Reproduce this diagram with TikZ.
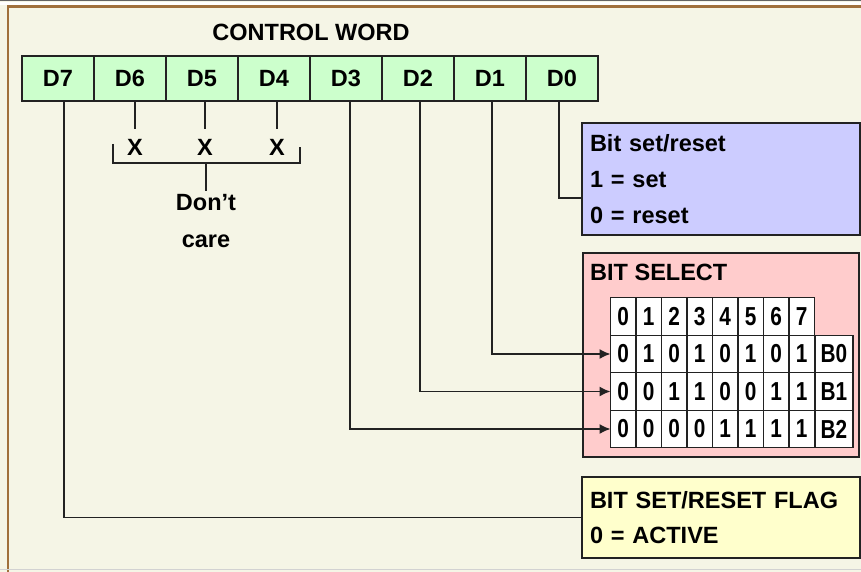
\documentclass[tikz,border=0pt]{standalone}
\usepackage{fontspec}
\setmainfont{Liberation Sans}
\newfontfamily\narrowfont[FakeStretch=0.8]{Liberation Sans}
\usetikzlibrary{positioning,arrows.meta}
\definecolor{paper}{HTML}{F5F5E6}
\definecolor{frame}{HTML}{A0703C}
\definecolor{ink}{HTML}{222222}
\definecolor{wordfill}{HTML}{CCFFCC}
\definecolor{setfill}{HTML}{CCCCFF}
\definecolor{selfill}{HTML}{FFCCCC}
\definecolor{flagfill}{HTML}{FFFFCC}

\begin{document}
\begin{tikzpicture}[x=1pt, y=-1pt, node distance=72pt,
    font=\bfseries\fontsize{23.5}{26}\selectfont]
    \tikzset{bitcell/.style={draw=ink, line width=1.6pt, fill=wordfill, minimum width=72pt,
                minimum height=45pt, inner sep=0pt, outer sep=0pt},
             infobox/.style={draw=ink, line width=1.6pt, anchor=north west, align=left,
                inner xsep=8pt, outer sep=0pt},
             gridcell/.style={draw=ink, line width=1.2pt, fill=white, minimum width=25.5pt,
                minimum height=37.5pt, inner sep=0pt, outer sep=0pt,
                font=\narrowfont\bfseries\fontsize{26}{26}\selectfont},
             wire/.style={draw=ink, line width=1.5pt},
             pointer/.style={wire, -{Latex[length=11pt, width=10pt]}}}

    % page and frame
    \useasboundingbox (0,0) rectangle (861,572);
    \fill[paper] (0,0) rectangle (861,572);
    \fill[white] (0,2) rectangle (861,5);
    \draw[ink!70, line width=1pt] (0,1) -- (861,1);
    \draw[frame, line width=2.5pt] (8,572) -- (8,6.5) -- (861,6.5);
    \draw[gray!35, line width=1pt] (0,569.5) -- (861,569.5);

    % control word
    \node (title) at (311,32) {CONTROL WORD};
    \node[bitcell] (d7) at (58,78.5) {D7};
    \node[bitcell, right of = d7] (d6) {D6};
    \node[bitcell, right of = d6] (d5) {D5};
    \node[bitcell, right of = d5] (d4) {D4};
    \node[bitcell, right of = d4] (d3) {D3};
    \node[bitcell, right of = d3] (d2) {D2};
    \node[bitcell, right of = d2] (d1) {D1};
    \node[bitcell, right of = d1] (d0) {D0};

    % don't care bits
    \node[inner ysep=10pt] (x6) at (135,147) {X};
    \node[inner ysep=10pt] (x5) at (205,147) {X};
    \node[inner ysep=10pt] (x4) at (277,147) {X};
    \draw[wire] ([xshift=5pt]d6.south) -- (x6.north);
    \draw[wire] ([xshift=3pt]d5.south) -- (x5.north);
    \draw[wire] ([xshift=3pt]d4.south) -- (x4.north);
    \coordinate (brk) at (206,163);
    \draw[wire] (113,144) |- (300,163) -- (300,147);
    \node[align=center, font=\bfseries\fontsize{23.5}{37}\selectfont] (dc) at (206,221.5) {Don't\\care};
    \draw[wire] (brk) -- (dc.north);

    % boxes
    \node[infobox, fill=setfill, minimum width=278pt, minimum height=112pt, text width=262pt,
          font=\bfseries\fontsize{23.5}{36}\selectfont] (setreset) at (582,123)
          {Bit set/reset\\1 = set\\0 = reset};
    \node[infobox, fill=selfill, minimum width=276pt, minimum height=204pt] (bitsel) at (583,253) {};
    \node[anchor=west, inner sep=0pt] (seltitle) at (590,272) {BIT SELECT};
    \node[infobox, fill=flagfill, minimum width=278pt, minimum height=81pt, text width=262pt,
          font=\bfseries\fontsize{23.5}{35}\selectfont] (flag) at (582,477)
          {BIT SET/RESET FLAG\\0 = ACTIVE};

    % bit select table
    \foreach \r/\y/\bits in {h/316.5/{0,1,2,3,4,5,6,7}, b0/354/{0,1,0,1,0,1,0,1},
                             b1/391.5/{0,0,1,1,0,0,1,1}, b2/429/{0,0,0,0,1,1,1,1}}
        \foreach \b [count=\c from 0] in \bits
            \node[gridcell] (\r-\c) at (623.25+25.5*\c, \y) {\b};
    \node[gridcell, minimum width=38pt] (b0-lab) at (834,354) {B0};
    \node[gridcell, minimum width=38pt] (b1-lab) at (834,391.5) {B1};
    \node[gridcell, minimum width=38pt] (b2-lab) at (834,429) {B2};

    % connections
    \draw[wire] ([xshift=6pt]d7.south) |- (flag.west);
    \draw[wire] ([xshift=-3pt]d0.south) |- ([yshift=-19pt]setreset.west);
    \draw[pointer] ([xshift=2pt]d1.south) |- (b0-0.west);
    \draw[pointer] ([xshift=2pt]d2.south) |- (b1-0.west);
    \draw[pointer] ([xshift=4pt]d3.south) |- (b2-0.west);
\end{tikzpicture}
\end{document}
